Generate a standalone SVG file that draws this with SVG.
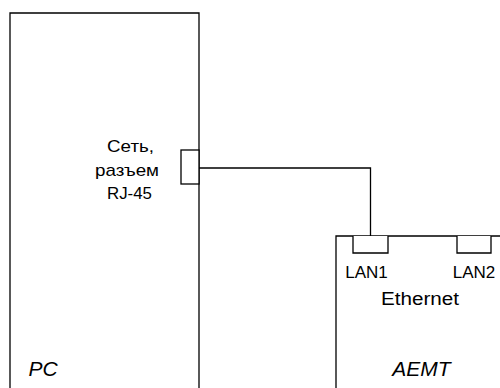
<svg xmlns="http://www.w3.org/2000/svg" width="500" height="388" viewBox="0 0 500 388">
<style>
.ln{fill:none;stroke:#000;stroke-width:1.3}
.port{fill:#fff;stroke:#000;stroke-width:1.3}
.t{font-family:"Liberation Sans",Arial,sans-serif;fill:#000;text-anchor:middle}
.it{font-style:italic}
</style>
<rect width="500" height="388" fill="#fff"/>
<g id="pc">
<path class="ln" d="M10,392 V13 H199 V392"/>
<rect class="port" x="181" y="150" width="18" height="34"/>
<text class="t" x="130.5" y="151.5" font-size="17" textLength="47" lengthAdjust="spacingAndGlyphs">Сеть,</text>
<text class="t" x="127" y="175.5" font-size="17" textLength="64" lengthAdjust="spacingAndGlyphs">разъем</text>
<text class="t" x="129.5" y="198.5" font-size="17" textLength="45" lengthAdjust="spacingAndGlyphs">RJ-45</text>
<text class="t it" x="43" y="376" font-size="21">PC</text>
</g>
<g id="aemt">
<path class="ln" d="M336,392 V236 H502"/>
<path class="port" d="M353,236 V253 H388 V236"/>
<path class="port" d="M457,236 V253 H491 V236"/>
<text class="t" x="366.5" y="278.3" font-size="17">LAN1</text>
<text class="t" x="474" y="278.3" font-size="17">LAN2</text>
<text class="t" x="420" y="305" font-size="18" textLength="78" lengthAdjust="spacingAndGlyphs">Ethernet</text>
<text class="t it" x="421.5" y="375.7" font-size="21">AEMT</text>
</g>
<g id="connectors">
<path class="ln" d="M199,168 H370.5 V236"/>
</g>
</svg>
